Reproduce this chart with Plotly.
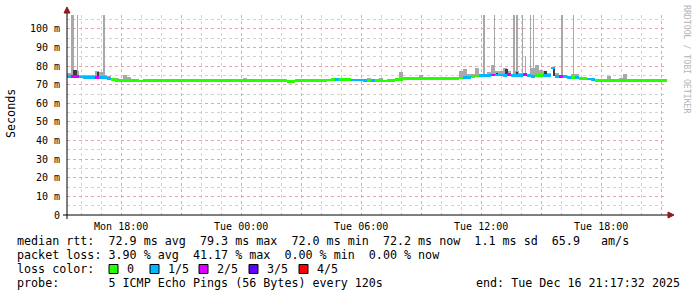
import plotly.graph_objects as go
import pandas as pd

# ---------------- data ----------------
START = "2025-12-15 15:17:32"
END = "2025-12-16 21:17:32"
BIN_MIN = 12  # minutes per consolidated step

median_ms = [
    74.4, 74.5, 74.3, 74.2, 74.1, 74.1, 74.0, 73.9, 73.8, 73.7,
    73.4, 72.7, 72.3, 72.2, 72.3, 72.1, 72.3, 72.2, 72.0, 72.3,
    72.2, 72.3, 72.1, 72.3, 72.2, 72.2, 72.3, 72.2, 72.1, 72.2,
    72.2, 72.3, 72.2, 72.2, 72.3, 72.2, 72.2, 72.2, 72.3, 72.2,
    72.2, 72.2, 72.3, 72.2, 72.3, 72.2, 72.2, 72.2, 72.3, 72.2,
    72.2, 72.3, 72.2, 72.2, 72.2, 71.9, 71.9, 72.2, 72.2, 72.3,
    72.2, 72.2, 72.3, 72.2, 72.4, 72.6, 72.7, 72.8, 72.7, 72.8,
    72.7, 72.6, 72.6, 72.6, 72.5, 72.4, 72.4, 72.5, 72.3, 72.0,
    72.3, 72.5, 72.7, 73.0, 73.3, 73.3, 73.2, 73.3, 73.4, 73.3,
    73.4, 73.3, 73.3, 73.5, 73.4, 73.4, 73.5, 73.5, 73.6, 74.0,
    74.1, 74.6, 74.7, 74.8, 74.9, 75.0, 75.3, 75.2, 75.3, 75.0,
    75.5, 75.1, 75.0, 74.8, 75.6, 75.0, 74.6, 74.8, 74.8, 74.8,
    74.9, 79.0, 74.5, 74.6, 74.3, 74.0, 73.8, 73.8, 73.5, 73.3,
    73.1, 72.8, 72.5, 72.4, 72.4, 72.4, 72.4, 72.4, 72.4, 72.4,
    72.4, 72.4, 72.4, 72.4, 72.4, 72.4, 72.4, 72.4, 72.4, 72.4,
]

loss_pings = [
    1, 2, 2, 1, 1, 1, 1, 2, 1, 1,
    1, 0, 0, 0, 0, 0, 0, 0, 0, 0,
    0, 0, 0, 0, 0, 0, 0, 0, 0, 0,
    0, 0, 0, 0, 0, 0, 0, 0, 0, 0,
    0, 0, 0, 0, 0, 0, 0, 0, 0, 0,
    0, 0, 0, 0, 0, 0, 0, 0, 0, 0,
    0, 0, 0, 0, 0, 0, 0, 1, 0, 0,
    0, 1, 1, 1, 1, 0, 1, 0, 0, 0,
    0, 0, 0, 0, 0, 0, 0, 0, 0, 0,
    0, 0, 0, 0, 0, 0, 0, 0, 0, 1,
    1, 0, 0, 1, 1, 1, 2, 1, 1, 1,
    2, 1, 1, 1, 2, 1, 1, 0, 0, 1,
    1, 1, 1, 2, 1, 1, 0, 1, 0, 0,
    1, 1, 0, 0, 0, 0, 0, 0, 0, 0,
    0, 0, 0, 0, 0, 0, 0, 0, 0, 0,
]

smoke_max_ms = [
    76.3, 77.5, 77.5, 75.0, 75.3, 75.0, 75.0, 77.3, 76.8, 75.5,
    74.5, 73.8, 73.8, 73.0, 75.3, 74.2, 72.8, 73.3, 72.5, 72.7,
    72.6, 72.7, 72.5, 72.7, 72.6, 72.6, 72.7, 72.6, 72.5, 72.6,
    72.6, 73.2, 72.6, 72.6, 72.7, 72.6, 72.6, 72.6, 72.7, 72.6,
    73.2, 72.6, 73.3, 72.6, 73.8, 72.6, 72.6, 72.6, 72.7, 72.6,
    72.6, 73.2, 72.6, 72.6, 72.6, 72.3, 72.3, 72.6, 72.6, 72.7,
    72.6, 72.6, 72.7, 72.6, 72.8, 73.0, 73.1, 73.9, 73.1, 73.2,
    73.1, 73.0, 73.0, 73.0, 72.9, 73.6, 72.8, 72.9, 73.4, 72.4,
    72.7, 72.9, 73.1, 77.0, 73.7, 73.7, 74.4, 74.4, 75.3, 73.7,
    73.8, 73.7, 73.8, 73.9, 73.8, 73.8, 73.9, 73.9, 77.6, 78.3,
    76.0, 75.8, 78.8, 75.5, 75.3, 77.0, 80.6, 77.2, 77.5, 79.0,
    77.5, 75.5, 77.5, 76.5, 76.0, 75.8, 79.0, 80.5, 78.0, 77.5,
    76.5, 79.4, 76.2, 75.0, 75.5, 74.4, 75.8, 75.8, 73.9, 73.7,
    73.5, 73.2, 72.9, 73.2, 73.2, 74.7, 72.8, 73.2, 73.6, 76.0,
    72.8, 73.0, 72.8, 72.8, 73.0, 72.8, 72.8, 72.8, 72.8, 72.8,
]

# isolated high pings (outer smoke), most run off the top of the graph
spike_times = [
    "2025-12-15 15:34:02", "2025-12-15 15:49:02", "2025-12-15 17:08:32",
    "2025-12-16 12:08:32", "2025-12-16 12:40:02", "2025-12-16 13:37:02",
    "2025-12-16 13:46:02", "2025-12-16 14:04:02", "2025-12-16 14:13:02",
    "2025-12-16 14:28:02", "2025-12-16 14:37:02", "2025-12-16 16:02:32",
    "2025-12-16 16:37:02",
]
spike_minutes = [9, 3, 6, 6, 3, 6, 6, 3, 3, 3, 3, 6, 3]
spike_lo_ms = [74.5, 74.3, 73.7, 74.9, 75.2, 75.1, 75.0, 74.8, 75.6, 75.0, 74.6, 74.4, 73.8]
spike_hi_ms = [120, 120, 120, 120, 120, 120, 120, 120, 85.5, 120, 120, 120, 120]

# inner (darker) smoke
dark_times = [
    "2025-12-15 15:41:32", "2025-12-15 16:50:32", "2025-12-16 12:47:32",
    "2025-12-16 13:16:02", "2025-12-16 13:47:32", "2025-12-16 15:11:32",
    "2025-12-16 15:38:32",
]
dark_minutes = [12, 6, 3, 9, 3, 9, 6]
dark_lo_ms = [74.5, 73.8, 75.0, 75.0, 75.0, 74.8, 74.5]
dark_hi_ms = [77.8, 77.0, 76.5, 78.5, 76.8, 77.5, 79.0]

loss_colors = ["#26ff00", "#00b8ff", "#dd00ff", "#5e00ff", "#ff0000"]
loss_labels = ["0", "1/5", "2/5", "3/5", "4/5"]

y_tick_vals = [0, 10, 20, 30, 40, 50, 60, 70, 80, 90, 100]
y_tick_text = ["0", "10 m", "20 m", "30 m", "40 m", "50 m", "60 m", "70 m", "80 m", "90 m", "100 m"]

x_tick_vals = [
    "2025-12-15 18:00", "2025-12-15 21:00", "2025-12-16 00:00", "2025-12-16 03:00",
    "2025-12-16 06:00", "2025-12-16 09:00", "2025-12-16 12:00", "2025-12-16 15:00",
    "2025-12-16 18:00", "2025-12-16 21:00",
]
x_tick_text = ["Mon 18:00", "", "Tue 00:00", "", "Tue 06:00", "", "Tue 12:00", "", "Tue 18:00", ""]

legend_rtt = "median rtt:  72.9 ms avg  79.3 ms max  72.0 ms min  72.2 ms now  1.1 ms sd  65.9   am/s"
legend_loss = "packet loss: 3.90 % avg  41.17 % max  0.00 % min  0.00 % now"
legend_probe = "probe:       5 ICMP Echo Pings (56 Bytes) every 120s"
legend_end = "end: Tue Dec 16 21:17:32 2025"

# ---------------- layout constants ----------------
W, H = 697, 297
L, R, T, B = 67, 30, 15, 82
PW, PH = W - L - R, H - T - B
Y_MAX = 107.5
MONO = "DejaVu Sans Mono"
BAND = 1.5  # median band thickness (ms)


def px(x):
    return (x - L) / PW


def py(y):
    return (T + PH - y) / PH


def nb(s):
    return s.replace(" ", "\u00a0")


centers = pd.date_range(pd.Timestamp(START) + pd.Timedelta(minutes=BIN_MIN / 2),
                        periods=len(median_ms), freq=f"{BIN_MIN}min")
bin_w = BIN_MIN * 60 * 1000

fig = go.Figure()

# light smoke
fig.add_trace(go.Bar(
    x=centers, base=median_ms,
    y=[max(s - m, 0) for s, m in zip(smoke_max_ms, median_ms)],
    width=bin_w, marker=dict(color="#a8a8a8", line=dict(width=0)),
    hoverinfo="skip", showlegend=False))

# spikes
fig.add_trace(go.Bar(
    x=pd.to_datetime(spike_times), base=spike_lo_ms,
    y=[h - l for h, l in zip(spike_hi_ms, spike_lo_ms)],
    width=[m * 60 * 1000 for m in spike_minutes],
    marker=dict(color="#a8a8a8", line=dict(width=0)),
    hoverinfo="skip", showlegend=False))

# dark smoke
fig.add_trace(go.Bar(
    x=pd.to_datetime(dark_times), base=dark_lo_ms,
    y=[h - l for h, l in zip(dark_hi_ms, dark_lo_ms)],
    width=[m * 60 * 1000 for m in dark_minutes],
    marker=dict(color="#3c3c3c", line=dict(width=0)),
    hoverinfo="skip", showlegend=False))

# median band coloured by loss
fig.add_trace(go.Bar(
    x=centers, base=[m - BAND / 2 for m in median_ms],
    y=[BAND] * len(median_ms), width=bin_w,
    marker=dict(color=[loss_colors[l] for l in loss_pings], line=dict(width=0)),
    hoverinfo="skip", showlegend=False))

major_grid = "#eaa6a6"
minor_grid = "#d2d2d2"

fig.update_layout(
    width=W, height=H, margin=dict(l=L, r=R, t=T, b=B, pad=0),
    paper_bgcolor="white", plot_bgcolor="white",
    barmode="overlay", bargap=0,
    font=dict(family=MONO, size=10, color="black"),
    xaxis=dict(
        type="date", range=[START, END], tickmode="array",
        tickvals=x_tick_vals, ticktext=x_tick_text,
        showgrid=True, gridcolor=major_grid, griddash="dot", gridwidth=1,
        minor=dict(dtick=3600000, tick0="2025-12-15 00:00", showgrid=True,
                   gridcolor=minor_grid, griddash="dot", gridwidth=1),
        ticks="", ticklabelstandoff=4, showline=False, zeroline=False,
        tickfont=dict(family=MONO, size=10), fixedrange=True,
    ),
    yaxis=dict(
        range=[0, Y_MAX], tickmode="array", tickvals=y_tick_vals, ticktext=y_tick_text,
        showgrid=True, gridcolor=major_grid, griddash="dot", gridwidth=1,
        minor=dict(dtick=5, tick0=0, showgrid=True, gridcolor=minor_grid,
                   griddash="dot", gridwidth=1),
        ticks="", ticklabelstandoff=6, showline=False, zeroline=False,
        tickfont=dict(family=MONO, size=10), fixedrange=True,
    ),
)

shapes = []
# axis lines
shapes.append(dict(type="line", xref="paper", yref="paper", x0=px(63), x1=px(669),
                   y0=0, y1=0, line=dict(color="black", width=1), layer="above"))
shapes.append(dict(type="line", xref="paper", yref="paper", x0=0, x1=0,
                   y0=py(219), y1=py(11), line=dict(color="black", width=1), layer="above"))
# arrows
arrow_col = "#8b1a1a"
shapes.append(dict(type="path", xref="paper", yref="paper",
                   path=f"M {px(668)} {py(212)} L {px(674)} {py(215)} L {px(668)} {py(218)} Z",
                   fillcolor=arrow_col, line=dict(color=arrow_col, width=1), layer="above"))
shapes.append(dict(type="path", xref="paper", yref="paper",
                   path=f"M {px(64)} {py(13)} L {px(67)} {py(7)} L {px(70)} {py(13)} Z",
                   fillcolor=arrow_col, line=dict(color=arrow_col, width=1), layer="above"))

annotations = []
LEG = 11.7


def txt(x, y, s, anchor="left", size=LEG, color="black", angle=0):
    annotations.append(dict(xref="paper", yref="paper", x=px(x), y=py(y), text=nb(s),
                            showarrow=False, xanchor=anchor, yanchor="middle",
                            textangle=angle,
                            font=dict(family=MONO, size=size, color=color)))


txt(15, 241, legend_rtt)
txt(15, 255, legend_loss)
txt(15, 269, "loss color:")
sq_x = [109, 150, 199, 249, 299]
for c, lab, x0 in zip(loss_colors, loss_labels, sq_x):
    shapes.append(dict(type="rect", xref="paper", yref="paper",
                       x0=px(x0), x1=px(x0 + 9), y0=py(273.5), y1=py(264.5),
                       fillcolor=c, line=dict(color="black", width=1), layer="above"))
    txt(x0 + 16, 269, lab)
txt(15, 283, legend_probe)
txt(682, 283, legend_end, anchor="right")

# y title
annotations.append(dict(xref="paper", yref="paper", x=px(11), y=py(114), text="Seconds",
                        showarrow=False, xanchor="center", yanchor="middle", textangle=-90,
                        font=dict(family=MONO, size=LEG, color="black")))
# watermark
annotations.append(dict(xref="paper", yref="paper", x=px(687), y=py(59),
                        text=nb("RRDTOOL / TOBI OETIKER"),
                        showarrow=False, xanchor="center", yanchor="middle", textangle=90,
                        font=dict(family=MONO, size=8.2, color="#b4b4b4")))

fig.update_layout(shapes=shapes, annotations=annotations)

fig.write_html("out.html")
